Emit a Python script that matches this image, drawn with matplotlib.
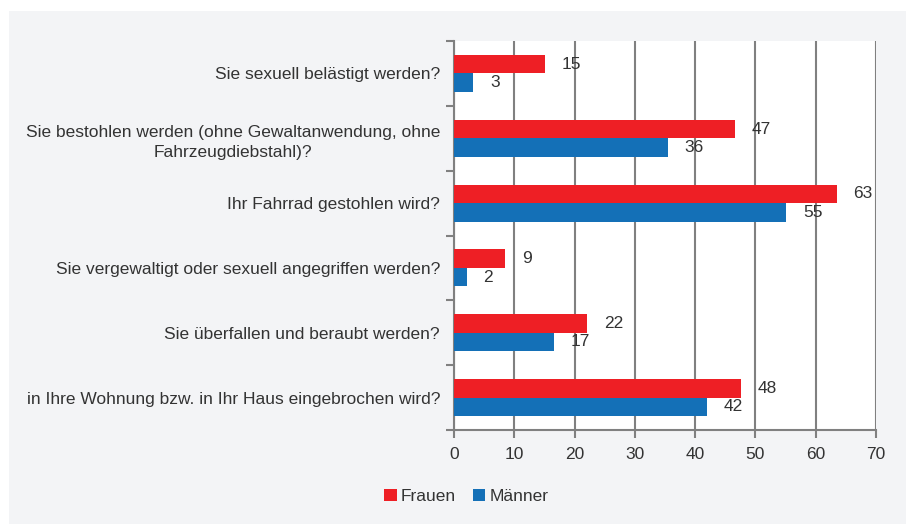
import matplotlib.pyplot as plt
from matplotlib.patches import Rectangle

categories = [
    "Sie sexuell belästigt werden?",
    "Sie bestohlen werden (ohne Gewaltanwendung, ohne\nFahrzeugdiebstahl)?",
    "Ihr Fahrrad gestohlen wird?",
    "Sie vergewaltigt oder sexuell angegriffen werden?",
    "Sie überfallen und beraubt werden?",
    "in Ihre Wohnung bzw. in Ihr Haus eingebrochen wird?",
]
frauen = [15.1, 46.6, 63.5, 8.5, 22.1, 47.6]
maenner = [3.2, 35.5, 55.1, 2.1, 16.6, 42.0]
frauen_labels = ["15", "47", "63", "9", "22", "48"]
maenner_labels = ["3", "36", "55", "2", "17", "42"]
xticks = [0, 10, 20, 30, 40, 50, 60, 70]

RED = "#ee1f25"
BLUE = "#1470b7"
GRID = "#808080"
TEXT = "#333333"
PANEL = "#f3f4f6"
FS = 12.5

plt.rcParams["font.family"] = ["Liberation Sans", "DejaVu Sans"]

fig = plt.figure(figsize=(9.06, 5.24), dpi=100)
fig.patches.append(Rectangle((9 / 906, 0), 1 - 9 / 906, 1 - 11 / 524,
                             transform=fig.transFigure, facecolor=PANEL,
                             edgecolor="none", zorder=-10))

ax = fig.add_axes([454 / 906, 1 - 430 / 524, 422 / 906, 389 / 524])
ax.set_facecolor("white")

h = 0.285
ys = list(range(len(categories)))
ax.barh([y - h / 2 for y in ys], frauen, height=h, color=RED, label="Frauen", zorder=3)
ax.barh([y + h / 2 for y in ys], maenner, height=h, color=BLUE, label="Männer", zorder=3)

for y, v, t in zip(ys, frauen, frauen_labels):
    ax.annotate(t, (v, y - h / 2), xytext=(12, 0), textcoords="offset points",
                va="center", ha="left", fontsize=FS, color=TEXT, zorder=4)
for y, v, t in zip(ys, maenner, maenner_labels):
    ax.annotate(t, (v, y + h / 2), xytext=(12, 0), textcoords="offset points",
                va="center", ha="left", fontsize=FS, color=TEXT, zorder=4)

ax.set_xlim(0, 70)
ax.set_ylim(len(categories) - 0.5, -0.5)
ax.set_xticks(xticks)
ax.set_xticklabels([str(x) for x in xticks], fontsize=FS, color=TEXT)
ax.set_yticks(ys)
ax.set_yticklabels(categories, fontsize=FS, color=TEXT,
                   multialignment="center", linespacing=1.4)
ax.set_yticks([y - 0.5 for y in range(len(categories) + 1)], minor=True)
ax.tick_params(axis="y", which="major", length=0, pad=10)
ax.tick_params(axis="y", which="minor", length=6, width=1.5, color=GRID)
ax.tick_params(axis="x", length=6, width=1.5, color=GRID, pad=6)

ax.grid(axis="x", color=GRID, linewidth=1.5, zorder=1)
ax.set_axisbelow(True)
for s in ["top", "right"]:
    ax.spines[s].set_visible(False)
for s in ["left", "bottom"]:
    ax.spines[s].set_color(GRID)
    ax.spines[s].set_linewidth(1.5)

fig.legend(loc="center", bbox_to_anchor=(0.515, 0.052), ncol=2, frameon=False,
           fontsize=FS, handlelength=0.7, handleheight=0.7, handletextpad=0.25,
           columnspacing=1.0, labelcolor=TEXT)

fig.savefig("out.png", dpi=100)
